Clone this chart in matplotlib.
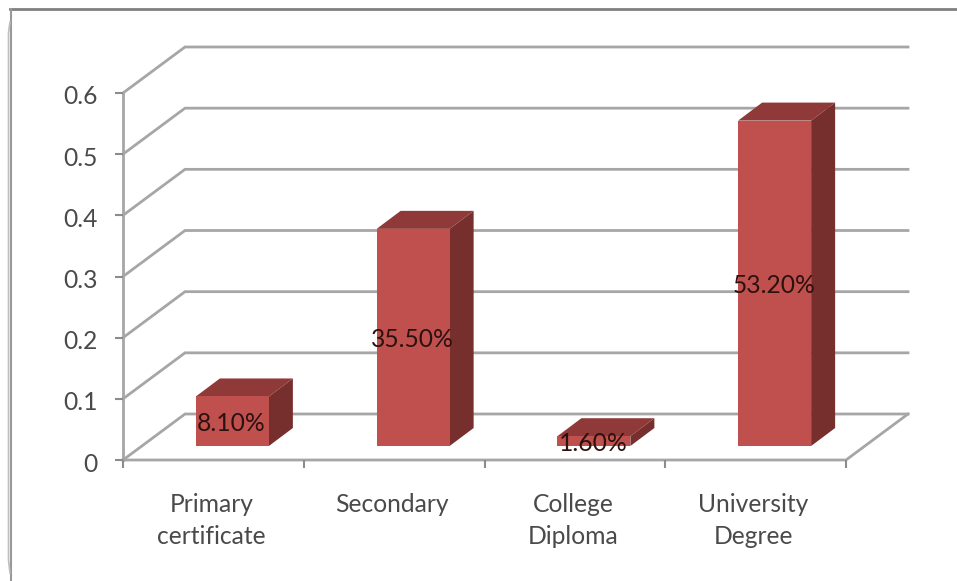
import matplotlib
matplotlib.use('Agg')
import matplotlib.pyplot as plt
from matplotlib.patches import Polygon
from matplotlib.lines import Line2D
from matplotlib.transforms import ScaledTranslation

categories = ['Primary\ncertificate', 'Secondary', 'College\nDiploma', 'University\nDegree']
values = [0.081, 0.355, 0.016, 0.532]
value_labels = ['8.10%', '35.50%', '1.60%', '53.20%']
y_ticks = [0, 0.1, 0.2, 0.3, 0.4, 0.5, 0.6]

W, H = 957, 581
plt.rcParams['font.family'] = ['Lato', 'DejaVu Sans']

fig = plt.figure(figsize=(W / 100, H / 100), dpi=100)

# axes span the front plane of the 3D box
left, right, bottom, top = 123, 846, 460, 93
ax = fig.add_axes([left / W, 1 - bottom / H, (right - left) / W, (bottom - top) / H])
ax.set_xlim(0, 4)
ax.set_ylim(0, 0.6)
ax.patch.set_visible(False)
for s in ax.spines.values():
    s.set_visible(False)

# depth of the box and the bars, in data units
wall_dx, wall_dy = 62 / 180.75, 46 / 611.7
bar_dx, bar_dy = 24 / 180.75, 18 / 611.7
off_dx, off_dy = 19 / 180.75, 14 / 611.7
bar_w = 73 / 180.75

grid_col = '#a6a6a6'
for v in y_ticks:
    ax.plot([0, wall_dx, 4 + wall_dx], [v, v + wall_dy, v + wall_dy],
            color=grid_col, lw=2, clip_on=False, zorder=1, solid_joinstyle='miter')

# floor front and right edges
ax.plot([0, 4, 4 + wall_dx], [0, 0, wall_dy], color=grid_col, lw=2, clip_on=False, zorder=1)
ax.plot([0, 0], [0, 0.6], color=grid_col, lw=2, clip_on=False, zorder=1)

# ticks and labels
ax.set_xticks(range(5))
ax.set_xticklabels([])
ax.set_yticks(y_ticks)
ax.set_yticklabels(['0', '0.1', '0.2', '0.3', '0.4', '0.5', '0.6'])
ax.tick_params(axis='both', length=6, width=1.5, color='#8c8c8c', labelcolor='#4a4a4a',
               labelsize=17.7)
ax.tick_params(axis='y', pad=12)
nudge = ScaledTranslation(0, -2 / 100, fig.dpi_scale_trans)
for lab in ax.get_yticklabels():
    lab.set_transform(lab.get_transform() + nudge)
for i, name in enumerate(categories):
    ax.annotate(name, (i + 0.5, 0), xytext=(-2, -33), textcoords='offset pixels', ha='center',
                va='top', fontsize=17.7, color='#4a4a4a', linespacing=1.45)

# bars: front, top and side faces
for i, v in enumerate(values):
    x0 = i + 0.5 + off_dx - bar_w / 2
    x1 = x0 + bar_w
    y0 = off_dy
    y1 = off_dy + v
    ax.add_patch(Polygon([(x0, y1), (x1, y1), (x1 + bar_dx, y1 + bar_dy), (x0 + bar_dx, y1 + bar_dy)],
                         fc='#8f3a38', ec='none', clip_on=False, zorder=3))
    ax.add_patch(Polygon([(x1, y0), (x1 + bar_dx, y0 + bar_dy), (x1 + bar_dx, y1 + bar_dy), (x1, y1)],
                         fc='#772f2d', ec='none', clip_on=False, zorder=3))
    ax.add_patch(Polygon([(x0, y0), (x1, y0), (x1, y1), (x0, y1)],
                         fc='#c0504d', ec='none', clip_on=False, zorder=4))
    ax.annotate(value_labels[i], ((x0 + x1) / 2, y0 + v / 2), xytext=(-1, -2), textcoords='offset pixels',
                ha='center', va='center', fontsize=17.7, color='#2b1211', zorder=5)

# outer frame: top edge and a doubled left edge
fig.add_artist(Line2D([10 / W, 956 / W], [1 - 9 / H, 1 - 9 / H], color='#808080', lw=2))
fig.add_artist(Line2D([10.5 / W, 10.5 / W], [1 - 9 / H, 1 - 581 / H], color='#999999', lw=1.5))
left_edge = [(10, 22), (8.5, 33), (8.5, 560), (10, 573)]
fig.add_artist(Line2D([p[0] / W for p in left_edge], [1 - p[1] / H for p in left_edge],
                      color='#bdbdbd', lw=1.2))

fig.savefig('out.png', dpi=100)
